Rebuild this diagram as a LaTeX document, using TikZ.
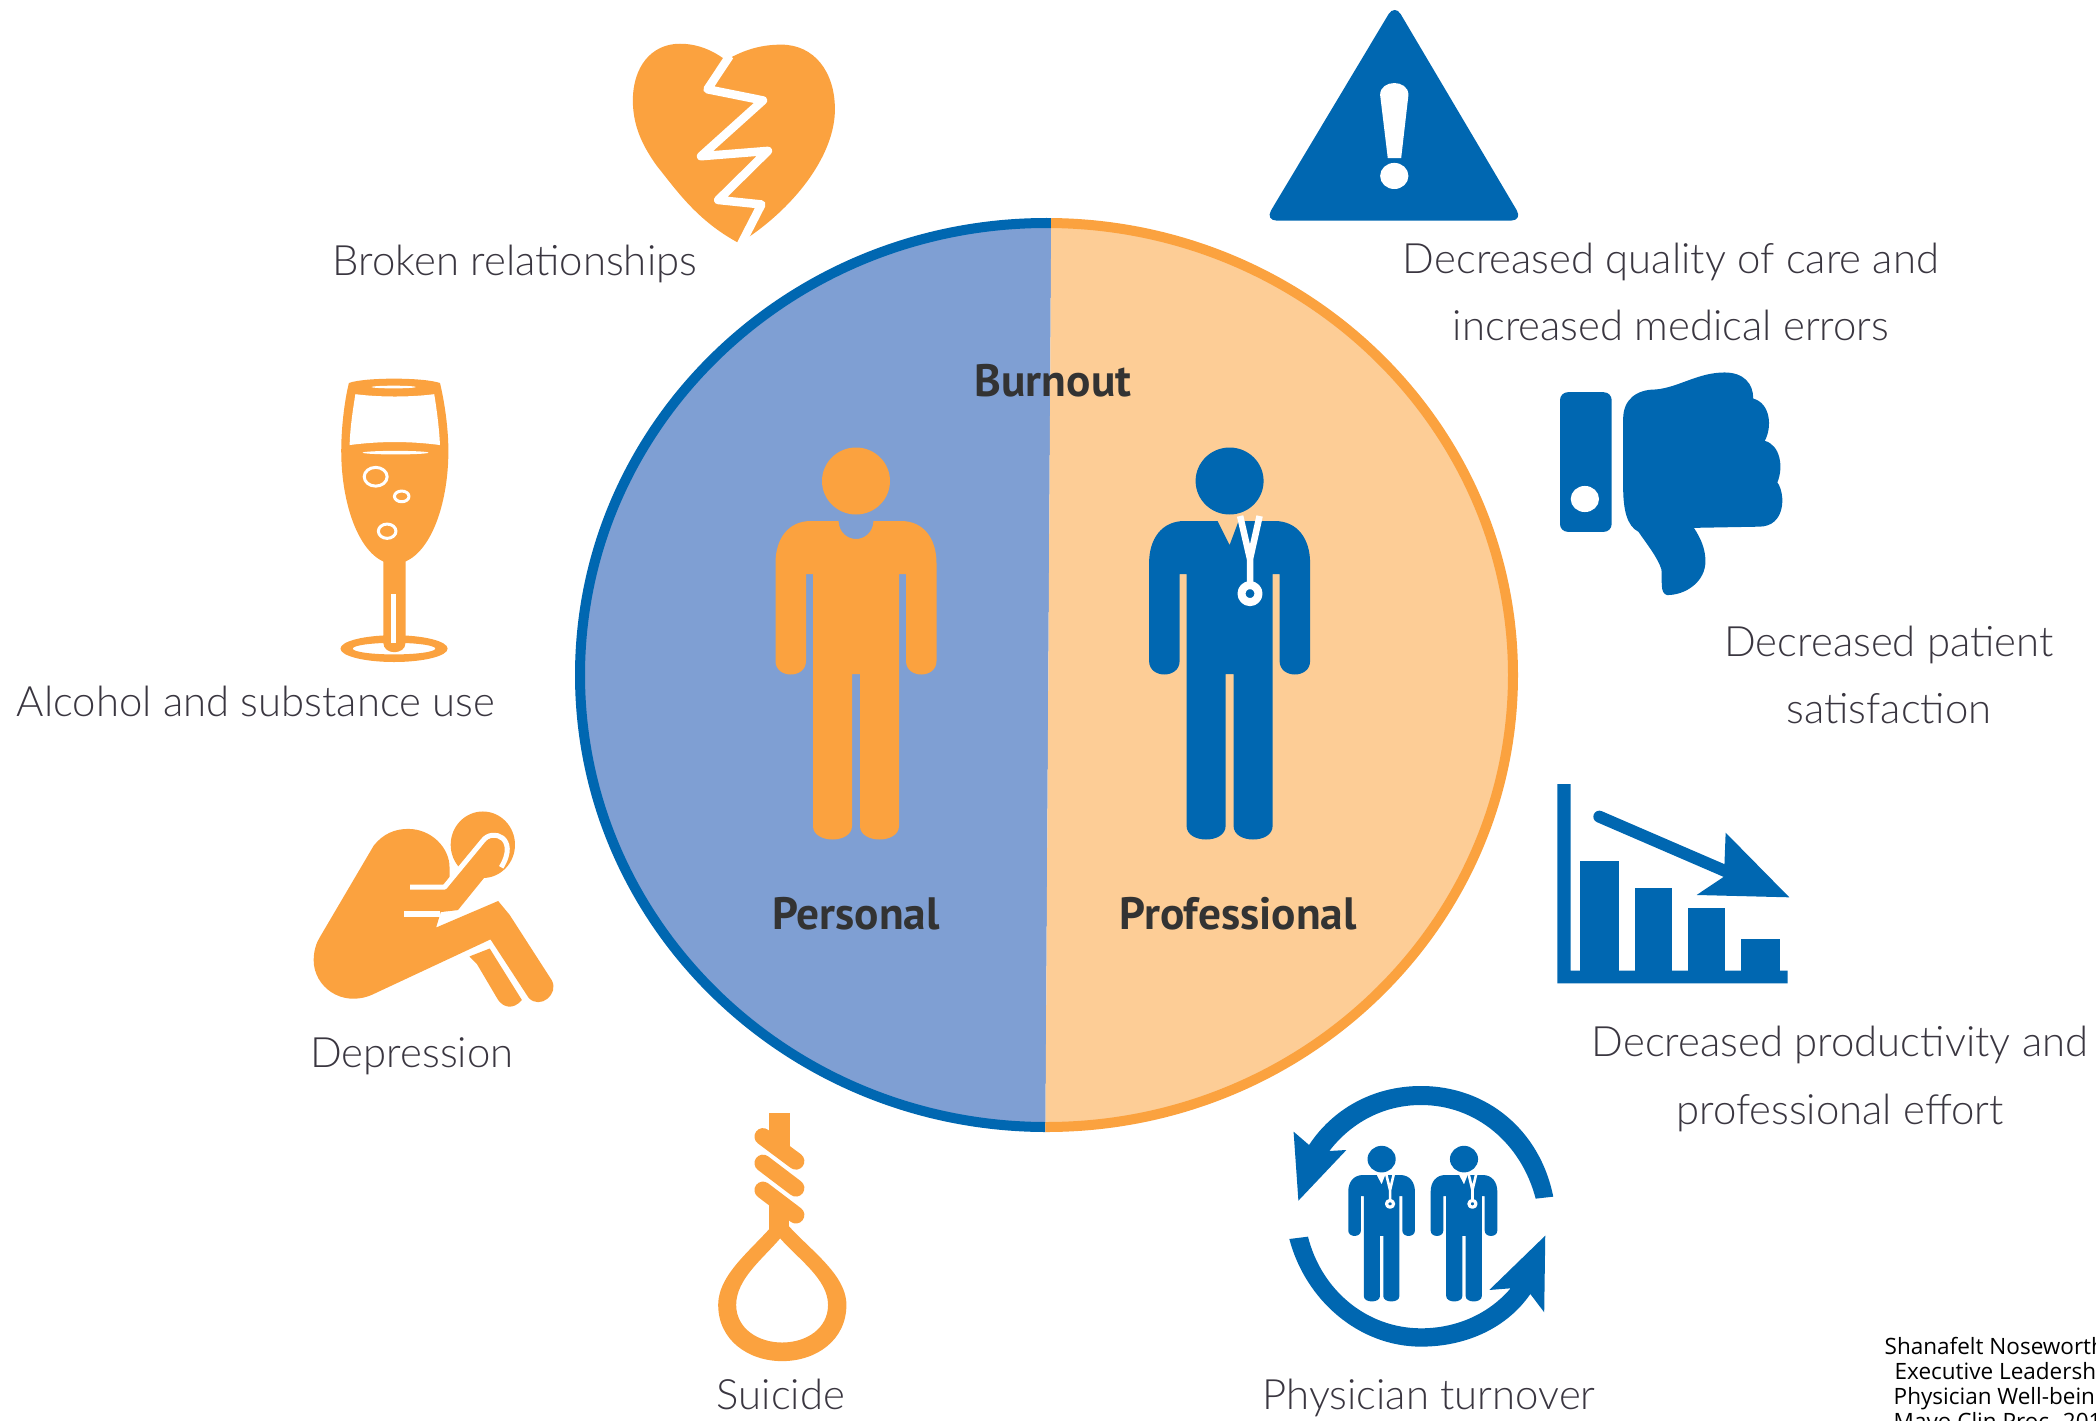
\documentclass[tikz,border=0pt]{standalone}
\usepackage{fontspec}
\newfontfamily\lblfont{Lato}[UprightFont=* Light]
\newfontfamily\headfont{PT Sans}
\newfontfamily\citefont{Open Sans}
\definecolor{dkblue}{HTML}{0067B1}
\definecolor{ltblue}{HTML}{7F9FD3}
\definecolor{dkorange}{HTML}{FBA23F}
\definecolor{ltorange}{HTML}{FDCD96}
\definecolor{txtgray}{HTML}{3A3640}
\tikzset{
lbl/.style={font=\lblfont\fontsize{11.9}{19.1}\selectfont,text=txtgray,align=center,inner sep=0pt},
headlbl/.style={font=\headfont\bfseries\fontsize{12.9}{14}\selectfont,text=black!80,inner sep=0pt,anchor=base},
citelbl/.style={font=\citefont\fontsize{6.4}{7.2}\selectfont,inner sep=0pt,anchor=base west},
}
\newcommand{\bodyfig}[1]{
\fill (-45,0) .. controls (-68,0) and (-80.5,18) .. (-80.5,42) -- (-80.5,140) .. controls (-80.5,158) and (-50,158) .. (-50,140) -- (-50,53) -- (-43,53) -- (-43,305) .. controls (-43,323) and (-4,323) .. (-4,305) -- (-4,153) -- (4,153) -- (4,305) .. controls (4,323) and (43,323) .. (43,305) -- (43,53) -- (50,53) -- (50,140) .. controls (50,158) and (80.5,158) .. (80.5,140) -- (80.5,42) .. controls (80.5,18) and (68,0) .. (45,0) #1 -- cycle;
\fill (0,-40) ellipse [x radius=34,y radius=33.5];
}
\newcommand{\doctorfig}[1]{
\bodyfig{-- (9,0) -- (0,24) -- (-12,0)}
\draw[white,line cap=butt,line width=0.065cm*#1] (10.5,-5) -- (20.4,38) -- (30,-5) (20.4,38) -- (20.4,66);
\draw[white,line width=0.08cm*#1] (20.4,72.6) ellipse [x radius=8.5,y radius=8.5];
}
\begin{document}
\begin{tikzpicture}[x=0.01cm,y=-0.01cm,line join=round]
\useasboundingbox (0,0) rectangle (2096,1421);
\clip (0,0) rectangle (2096,1421);
\begin{scope}
\clip (1052,100) -- (1045,1200) -- (400,1200) -- (400,100) -- cycle;
\draw[dkblue,line width=0.1cm,fill=ltblue] (1046.5,675) ellipse [x radius=466.5,y radius=452];
\end{scope}
\begin{scope}
\clip (1052,100) -- (1045,1200) -- (1700,1200) -- (1700,100) -- cycle;
\draw[dkorange,line width=0.1cm,fill=ltorange] (1046.5,675) ellipse [x radius=466.5,y radius=452];
\end{scope}
\begin{scope}[shift={(856,521)},dkorange]
\bodyfig{-- (17.5,0) .. controls (17,12) and (8,18) .. (0,18) .. controls (-8,18) and (-17,12) .. (-17.5,0)}
\end{scope}
\begin{scope}[shift={(1229.6,521)},dkblue]
\doctorfig{1}
\end{scope}
\begin{scope}[shift={(1381.6,1175)},xscale=.414,yscale=.397,dkblue]
\doctorfig{.4}
\end{scope}
\begin{scope}[shift={(1464,1175)},xscale=.414,yscale=.397,dkblue]
\doctorfig{.4}
\end{scope}
\begin{scope}[shift={(1260,1070)},xscale=.5332,yscale=.3333,dkblue]
\fill (550,380) .. controls (525,180) and (425,48) .. (302,48) .. controls (210,48) and (135,120) .. (92,225) -- (63,185) -- (72,392) -- (162,240) -- (130,243) .. controls (170,160) and (230,105) .. (302,105) .. controls (405,105) and (490,220) .. (517,386) -- cycle;
\fill (55,507) .. controls (85,690) and (185,830) .. (302,830) .. controls (390,830) and (465,770) .. (507,672) -- (533,727) -- (535,497) -- (430,660) -- (470,655) .. controls (430,730) and (370,775) .. (302,775) .. controls (200,775) and (115,660) .. (90,500) -- cycle;
\end{scope}
\begin{scope}[shift={(280,0)},xscale=.3827,yscale=.4464,dkorange]
\fill (1165,135) .. controls (1215,110) and (1260,100) .. (1310,100) .. controls (1395,100) and (1450,160) .. (1450,245) .. controls (1450,350) and (1340,470) .. (1200,545) .. controls (1090,495) and (1035,425) .. (985,372) .. controls (950,330) and (922,285) .. (922,225) .. controls (922,150) and (970,98) .. (1045,98) .. controls (1090,98) and (1130,112) .. (1165,135) -- cycle;
\draw[white,line width=0.085cm] (1175,125) -- (1117,200) -- (1262,225) -- (1100,350) -- (1275,338) -- (1145,448) -- (1258,458) -- (1200,555);
\fill[even odd rule] (298,1453) ellipse [x radius=140,y radius=30] (298,1453) ellipse [x radius=108,y radius=13];
\fill (180,858) .. controls (220,845) and (375,845) .. (418,858) .. controls (430,900) and (440,960) .. (440,1010) .. controls (440,1120) and (400,1230) .. (328,1258) -- (328,1440) .. controls (328,1468) and (270,1468) .. (270,1440) -- (270,1258) .. controls (200,1230) and (160,1120) .. (160,1010) .. controls (160,960) and (168,900) .. (180,858) -- cycle;
\fill[white] (197,883) .. controls (260,890) and (340,890) .. (403,883) .. controls (410,920) and (416,960) .. (418,997) .. controls (340,988) and (260,988) .. (182,997) .. controls (183,960) and (190,920) .. (197,883) -- cycle;
\fill[white] (290,1330) -- (304,1330) -- (304,1440) -- (290,1440) -- cycle;
\fill[white] (297,867) ellipse [x radius=58,y radius=3] (302,1014) ellipse [x radius=86,y radius=4];
\draw[white,line width=0.03cm] (250,1068) ellipse [x radius=30,y radius=21] (318,1112) ellipse [x radius=19,y radius=12] (280,1190) ellipse [x radius=23,y radius=16];
\end{scope}
\begin{scope}[shift={(280,800)},xscale=.3827,yscale=.396,dkorange]
\fill (530,113) circle [x radius=84,y radius=84];
\fill (245,115) .. controls (270,85) and (300,73) .. (335,73) .. controls (395,73) and (443,120) .. (443,170) -- (443,200) -- (540,95) .. controls (565,75) and (600,100) .. (585,135) -- (465,278) -- (420,283) -- (408,322) -- (570,255) -- (600,290) -- (710,455) .. controls (730,490) and (680,530) .. (650,500) -- (550,352) -- (240,492) .. controls (160,525) and (88,470) .. (88,405) .. controls (88,380) and (95,360) .. (105,345) -- cycle;
\fill (495,395) -- (548,375) -- (632,505) .. controls (610,530) and (585,525) .. (570,505) -- (515,415) -- cycle;
\draw[white,line width=0.05cm] (340,220) -- (430,220) -- (530,103) .. controls (555,70) and (625,95) .. (578,170);
\draw[white,line width=0.055cm] (325,288) -- (418,288);
\fill (1277,790) -- (1332,790) -- (1332,880) -- (1277,880) -- cycle;
\fill (1279,1020) -- (1331,1020) -- (1331,1090) -- (1279,1090) -- cycle;
\draw[line width=0.17cm,line cap=round] (1262,850) -- (1348,912) (1262,917) -- (1348,980) (1262,985) -- (1348,1048);
\fill[even odd rule] (1307,1050) .. controls (1250,1125) and (1145,1190) .. (1145,1275) .. controls (1145,1365) and (1225,1417) .. (1312,1417) .. controls (1400,1417) and (1480,1365) .. (1480,1275) .. controls (1480,1190) and (1365,1125) .. (1307,1050) -- cycle (1307,1107) .. controls (1260,1160) and (1192,1210) .. (1192,1275) .. controls (1192,1335) and (1250,1370) .. (1312,1370) .. controls (1375,1370) and (1432,1335) .. (1432,1275) .. controls (1432,1210) and (1355,1160) .. (1307,1107) -- cycle;
\end{scope}
\begin{scope}[shift={(1250,0)},xscale=.3827,yscale=.3954,dkblue]
\fill[rounded corners=3.4pt] (378,10) -- (713,558) -- (39,558) -- cycle;
\fill[white] (340,240) .. controls (340,200) and (414,200) .. (414,240) -- (395,400) -- (360,400) -- cycle;
\fill[white] (377,445) ellipse [x radius=37,y radius=33];
\fill[rounded corners=2.2pt] (810,992) -- (945,992) -- (945,1345) -- (810,1345) -- cycle;
\fill[white] (875,1262) ellipse [x radius=37,y radius=33];
\fill (975,1060) .. controls (975,1010) and (1010,985) .. (1060,985) .. controls (1120,980) and (1170,942) .. (1240,942) .. controls (1290,942) and (1315,970) .. (1315,1008) .. controls (1360,1020) and (1365,1080) .. (1345,1115) .. controls (1385,1125) and (1395,1180) .. (1378,1220) .. controls (1400,1250) and (1400,1332) .. (1330,1332) -- (1160,1335) .. controls (1180,1365) and (1190,1390) .. (1190,1420) .. controls (1190,1470) and (1140,1505) .. (1090,1505) .. controls (1070,1500) and (1078,1470) .. (1075,1440) .. controls (1065,1410) and (1040,1380) .. (1015,1345) .. controls (985,1330) and (975,1290) .. (975,1230) -- cycle;
\end{scope}
\begin{scope}[shift={(1530,760)},scale=.3333,dkblue]
\fill (82,72) -- (122,72) -- (122,632) -- (773,632) -- (773,670) -- (82,670) -- cycle;
\foreach \xa/\xb/\ya in {150/268/302,314/427/385,473/586/445,632/750/538}
\fill (\xa,\ya) rectangle (\xb,640);
\draw[line width=0.12cm,line cap=round] (208,170) -- (590,335);
\fill (587,218) -- (778,412) -- (500,405) -- (582,350) -- cycle;
\end{scope}
\node[lbl,anchor=base] (broken) at (515,275) {Broken relationships};
\node[lbl,anchor=base] (alcohol) at (256,716) {Alcohol and substance use};
\node[lbl,anchor=base] (depress) at (412,1067) {Depression};
\node[lbl,anchor=base] (suicide) at (781,1409) {Suicide};
\node[lbl,anchor=base] (turnover) at (1429,1409) {Physician turnover};
\node[lbl] (quality) at (1671,292) {Decreased quality of care and\\increased medical errors};
\node[lbl] (patient) at (1889,675) {Decreased patient\\satisfaction};
\node[lbl] (effort) at (1840,1079) {Decreased productivity and\\professional effort};
\node[headlbl] (burnout) at (1053,396) {Burnout};
\node[headlbl] (personal) at (856,929) {Personal};
\node[headlbl] (profess) at (1238,929) {Professional};
\node[citelbl] (citea) at (1884,1354) {Shanafelt Noseworth};
\node[citelbl] (citeb) at (1894,1379) {Executive Leadersh};
\node[citelbl] (citec) at (1893,1404) {Physician Well-bein};
\node[citelbl] (cited) at (1893,1429) {Mayo Clin Proc. 201};
\end{tikzpicture}
\end{document}
